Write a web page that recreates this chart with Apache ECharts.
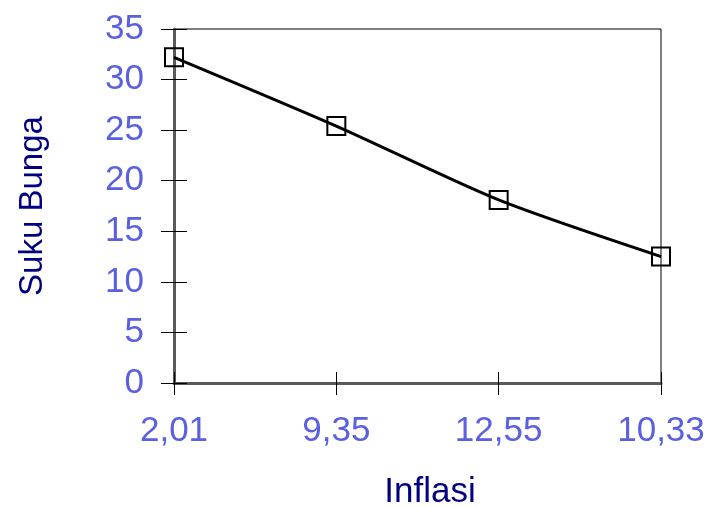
<!DOCTYPE html>
<html>
<head>
<meta charset="utf-8">
<script src="https://cdn.jsdelivr.net/npm/echarts@6/dist/echarts.min.js"></script>
<style>
html,body{margin:0;padding:0;background:#fff;}
#c{width:707px;height:507px;}
</style>
</head>
<body>
<div id="c"></div>
<script>
var categories = ['2,01', '9,35', '12,55', '10,33'];
var sukuBunga = [32.2, 25.4, 18.1, 12.5];
var xTitle = 'Inflasi';
var yTitle = 'Suku Bunga';

var labelBlue = '#5a60e0';
var navy = '#000080';
var regular = '"Liberation Sans", Arial, sans-serif';

var chart = echarts.init(document.getElementById('c'), null, {renderer: 'canvas'});
chart.setOption({
  animation: false,
  backgroundColor: '#ffffff',
  grid: {
    left: 174, right: 46, top: 29, bottom: 124,
    containLabel: false,
    outerBoundsMode: 'none',
    show: true, borderColor: '#000', borderWidth: 1, backgroundColor: 'transparent'
  },
  xAxis: [{
    type: 'category',
    data: categories,
    boundaryGap: false,
    position: 'bottom',
    axisLine: {show: true, lineStyle: {color: '#5a5a5a', width: 3}},
    axisTick: {show: true, inside: false, length: 12, lineStyle: {color: '#000', width: 1}},
    axisLabel: {show: true, color: labelBlue, fontFamily: regular, fontSize: 35, margin: 31},
    splitLine: {show: false},
    name: xTitle,
    nameLocation: 'middle',
    nameGap: 92,
    nameTextStyle: {color: navy, fontFamily: regular, fontSize: 35, padding: [0, 0, 0, 25]}
  }, {
    type: 'category',
    data: categories,
    boundaryGap: false,
    position: 'bottom',
    axisLine: {show: false},
    axisTick: {show: true, inside: true, length: 11, lineStyle: {color: '#000', width: 1}},
    axisLabel: {show: false},
    splitLine: {show: false}
  }],
  yAxis: [{
    type: 'value',
    min: 0, max: 35, interval: 5,
    position: 'left',
    axisLine: {show: true, lineStyle: {color: '#5a5a5a', width: 3}},
    axisTick: {show: true, inside: false, length: 13, lineStyle: {color: '#000', width: 1}},
    axisLabel: {show: true, color: labelBlue, fontFamily: regular, fontSize: 35, margin: 30, padding: [0, 0, 14, 0]},
    splitLine: {show: false},
    name: yTitle,
    nameLocation: 'middle',
    nameRotate: 90,
    nameGap: 125,
    nameTextStyle: {color: navy, fontFamily: regular, fontSize: 33}
  }, {
    type: 'value',
    min: 0, max: 35, interval: 5,
    position: 'left',
    axisLine: {show: false},
    axisTick: {show: true, inside: true, length: 13, lineStyle: {color: '#000', width: 1}},
    axisLabel: {show: false},
    splitLine: {show: false}
  }],
  series: [{
    type: 'line',
    data: sukuBunga,
    xAxisIndex: 0,
    yAxisIndex: 0,
    smooth: 0.25,
    symbol: 'rect',
    symbolSize: 18,
    showAllSymbol: true,
    lineStyle: {color: '#000', width: 3},
    itemStyle: {color: 'rgba(0,0,0,0)', borderColor: '#000', borderWidth: 2},
    emphasis: {disabled: true},
    z: 5
  }]
});
</script>
</body>
</html>
